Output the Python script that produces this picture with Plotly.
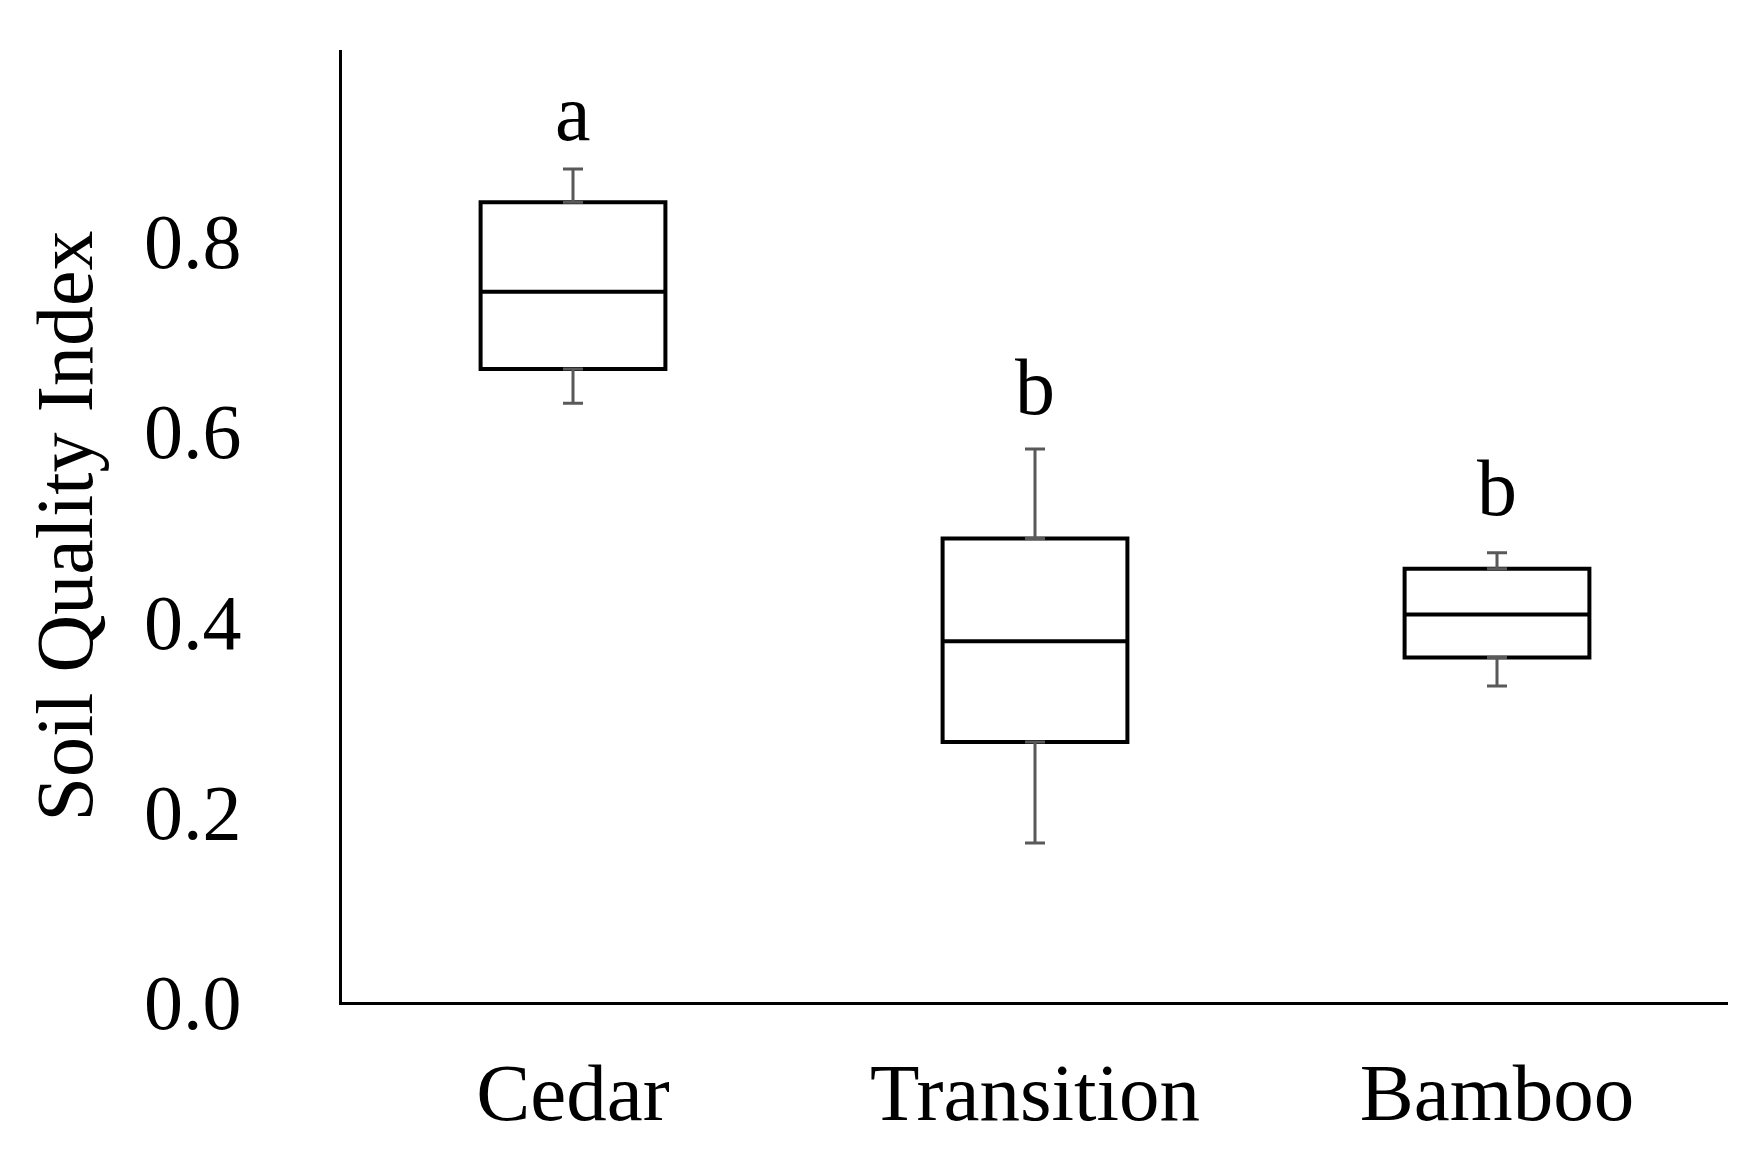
import plotly.graph_objects as go

categories = ["Cedar", "Transition", "Bamboo"]
lower = [0.629, 0.167, 0.332]
q1 = [0.665, 0.273, 0.362]
median = [0.746, 0.379, 0.407]
q3 = [0.840, 0.487, 0.455]
upper = [0.875, 0.581, 0.472]
letters = ["a", "b", "b"]
letter_y = [0.934, 0.646, 0.540]
yticks = [0.0, 0.2, 0.4, 0.6, 0.8, 1.0]

font = "Liberation Serif, Times New Roman, serif"
fig = go.Figure()
grey = "#595959"
# whiskers
fig.add_trace(go.Scatter(x=categories, y=q3, mode="markers", marker=dict(size=0.1, color=grey),
    error_y=dict(type="data", symmetric=False, array=[u - q for u, q in zip(upper, q3)],
                 arrayminus=[0] * 3, color=grey, thickness=3, width=10), showlegend=False, hoverinfo="skip"))
fig.add_trace(go.Scatter(x=categories, y=q1, mode="markers", marker=dict(size=0.1, color=grey),
    error_y=dict(type="data", symmetric=False, array=[0] * 3,
                 arrayminus=[q - l for q, l in zip(q1, lower)], color=grey, thickness=3, width=10), showlegend=False, hoverinfo="skip"))
fig.add_trace(go.Box(x=categories, q1=q1, median=median, q3=q3, lowerfence=q1, upperfence=q3,
    fillcolor="white", line=dict(color="black", width=4), width=0.4, whiskerwidth=0,
    showlegend=False, boxpoints=False))
for c, t, y in zip(categories, letters, letter_y):
    fig.add_annotation(x=c, y=y, text=t, showarrow=False, yanchor="middle",
                       font=dict(family=font, size=80, color="black"))
fig.update_layout(width=1753, height=1153, plot_bgcolor="white", paper_bgcolor="white",
    margin=dict(l=334, r=33, t=42, b=159), font=dict(family=font, color="black"))
fig.update_xaxes(showline=True, linecolor="black", linewidth=3, ticks="", showgrid=False,
    tickfont=dict(size=81), ticklabelstandoff=18, range=[-0.5, 2.5])
fig.update_yaxes(range=[0, 1], tickvals=yticks, ticktext=[f"{v:.1f}" for v in yticks],
    showline=True, linecolor="black", linewidth=3, ticks="", showgrid=False, zeroline=False,
    tickfont=dict(size=78), ticklabelstandoff=82,
    title=dict(text="Soil Quality Index", font=dict(size=80), standoff=25))
fig.write_html("out.html")
